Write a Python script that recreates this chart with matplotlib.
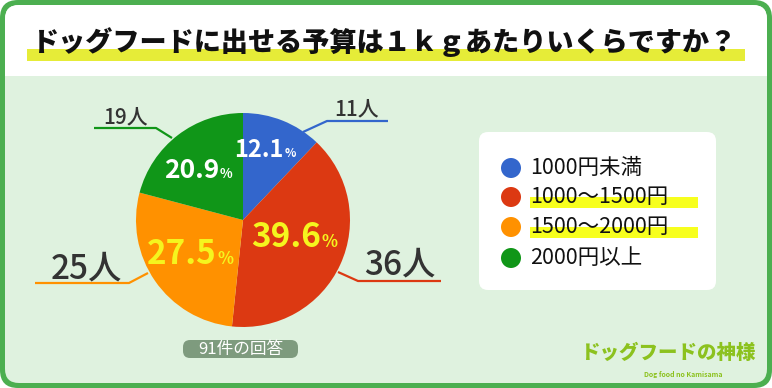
import matplotlib.pyplot as plt
from matplotlib.patches import FancyBboxPatch, Rectangle, Circle

plt.rcParams['font.family'] = ['Noto Sans CJK JP', 'DejaVu Sans']

title = 'ドッグフードに出せる予算は１ｋｇあたりいくらですか？'
categories = ['1000円未満', '1000～1500円', '1500～2000円', '2000円以上']
counts = [11, 36, 25, 19]
percents = [12.1, 39.6, 27.5, 20.9]
colors = ['#3366cc', '#dc3912', '#ff9100', '#109618']
total_label = '91件の回答'
highlighted = [False, True, True, False]

W, H = 772, 388
fig = plt.figure(figsize=(W / 100, H / 100), dpi=100)
ax = fig.add_axes([0, 0, 1, 1])


def Y(y):
    # pixel row from the top -> data y
    return H - y


def rbox(x0, y0, x1, y1, r, color, z):
    p = FancyBboxPatch((x0, Y(y1)), x1 - x0, y1 - y0,
                       boxstyle='round,pad=0,rounding_size=%g' % r,
                       fc=color, ec='none', zorder=z)
    ax.add_patch(p)


# frame and background
rbox(0, 0, W, H, 18, '#4caf50', 0)
rbox(5, 5, W - 5, H - 5, 14, '#dff2df', 1)
rbox(5, 5, W - 5, 110, 14, 'white', 2)
ax.add_patch(Rectangle((5, Y(300)), W - 10, 300 - 76, fc='#dff2df', ec='none', zorder=3))

# title
ax.add_patch(Rectangle((27, Y(61)), 718, 12, fc='#e6ec38', ec='none', zorder=4))
ax.text(385, Y(42), title, fontsize=19.5, fontweight='black', ha='center', va='center',
        color='#111111', zorder=5)

# pie
cx, cy, R = 243, 220, 107
ax.pie(counts, colors=colors, startangle=90, counterclock=False,
       center=(cx, Y(cy)), radius=R, wedgeprops=dict(linewidth=0, zorder=6))

# percentage labels (right edge of number, baseline)
pct_pos = [(284, 157), (321, 247), (217, 264), (219, 178)]
pct_size = [17, 24, 24, 19]
pct_color = ['white', '#f5f51e', '#f5f51e', 'white']
for p, (x, y), s, c in zip(percents, pct_pos, pct_size, pct_color):
    ax.text(x, Y(y), '%.1f' % p, fontsize=s, fontweight='bold', color=c,
            ha='right', va='baseline', zorder=8)
    ax.text(x + 1, Y(y), '%', fontsize=s * 0.5, fontweight='bold', color=c,
            ha='left', va='baseline', zorder=8)

# leader lines and count labels
leaders = [[(303, 132), (327, 121), (388, 121)],
           [(338, 272), (358, 281), (441, 281)],
           [(148, 273), (129, 283), (35, 283)],
           [(172, 138), (156, 128), (94, 128)]]
count_pos = [(357, 115), (400, 274), (86, 278), (126, 123)]
count_size = [15, 24, 24, 15]
for n, pts, (x, y), s, c in zip(counts, leaders, count_pos, count_size, colors):
    ax.plot([p[0] for p in pts], [Y(p[1]) for p in pts], color=c, lw=1.6,
            solid_capstyle='butt', zorder=7)
    ax.text(x, Y(y), '%d人' % n, fontsize=s, fontweight='medium', color='#333333',
            ha='center', va='baseline', zorder=8)

# legend
rbox(479, 132, 716, 290, 9, 'white', 4)
leg_y = [168, 197, 227, 258]
for name, c, y, hl in zip(categories, colors, leg_y, highlighted):
    ax.add_patch(Circle((511, Y(y)), 10, fc=c, ec='none', zorder=6))
    if hl:
        ax.add_patch(Rectangle((530, Y(y + 11)), 168, 11, fc='#f7ff1e', ec='none', zorder=5))
    ax.text(530, Y(y), name, fontsize=15.5, color='#111111', ha='left', va='center', zorder=7)

# total responses badge
rbox(183, 340, 298, 358, 7, '#7e9b7e', 5)
ax.text(240.5, Y(349.5), total_label, fontsize=12, color='white', ha='center', va='center', zorder=6)

# logo
ax.text(669, Y(353), 'ドッグフードの神様', fontsize=14, fontweight='black', color='#8cc21e',
        ha='center', va='center', zorder=6)
ax.text(683, Y(375), 'Dog food no Kamisama', fontsize=5, fontweight='bold', color='#8cc21e',
        ha='center', va='center', zorder=6)

ax.set_xlim(0, W)
ax.set_ylim(0, H)
ax.axis('off')
fig.savefig('out.png', dpi=100, facecolor='white')
